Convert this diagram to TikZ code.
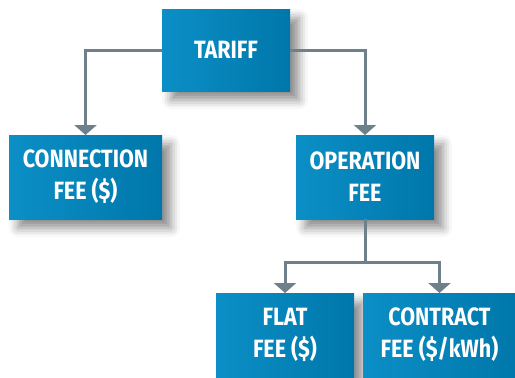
\documentclass[tikz,border=0pt]{standalone}
\usepackage{fontspec}
\newfontfamily\boxfont{Fira Sans}[FakeStretch=0.86]
\usetikzlibrary{arrows.meta,positioning,shadows.blur}
\definecolor{boxleft}{HTML}{0B8FC6}
\definecolor{boxright}{HTML}{0077AA}
\definecolor{linkgray}{HTML}{6E8089}

\begin{document}
\begin{tikzpicture}[x=1pt,y=-1pt,line width=3pt,
		link/.style={draw=linkgray,-{Triangle[length=10pt,width=22pt]}}]
		\tikzstyle{feebox}=[left color=boxleft,right color=boxright,draw=none,
		text=white,align=center,minimum height=84pt,inner sep=0pt,outer sep=0pt,
		font=\boxfont\bfseries\fontsize{25}{32}\selectfont,
		blur shadow={shadow xshift=9pt,shadow yshift=-9pt,shadow blur radius=9pt,shadow opacity=45}]
		\useasboundingbox (0,0) rectangle (515,378);
		\node[feebox,minimum width=128pt,minimum height=82pt] (tariff) at (226,50) {TARIFF};
		\node[feebox,minimum width=153pt] (conn) [below left=44pt and 0pt of tariff] {CONNECTION\\FEE (\$)};
		\node[feebox,minimum width=138pt] (oper) [below right=44pt and 6pt of tariff] {OPERATION\\FEE};
		\node[feebox,minimum width=138pt] (flat) [below=74pt of oper,xshift=-80pt] {FLAT\\FEE (\$)};
		\node[feebox,minimum width=153pt] (contract) [right=9pt of flat] {CONTRACT\\FEE (\$/kWh)};
		\coordinate (fork) at ([yshift=-43pt]oper.south);
		\path[link] (tariff.west) -| (conn.north);
		\path[link] (tariff.east) -| (oper.north);
		\draw[linkgray] (oper.south) -- (fork);
		\path[link] (fork) -| (flat.north);
		\path[link] (fork) -| (contract.north);
	\end{tikzpicture}
\end{document}
